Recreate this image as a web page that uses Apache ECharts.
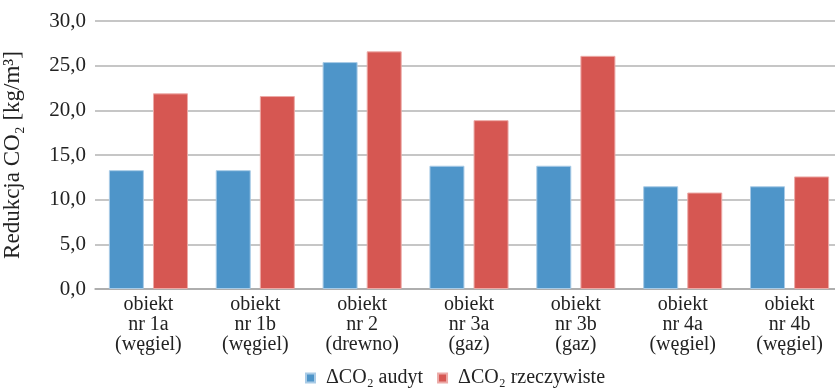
<!DOCTYPE html>
<html>
<head>
<meta charset="utf-8">
<script src="https://cdn.jsdelivr.net/npm/echarts@6/dist/echarts.min.js"></script>
<style>
  html, body { margin: 0; padding: 0; background: #fff; }
  #chart { width: 835px; height: 389px; }
</style>
</head>
<body>
<div id="chart"></div>
<script>
var categories = [
    'obiekt\nnr 1a\n(węgiel)',
    'obiekt\nnr 1b\n(węgiel)',
    'obiekt\nnr 2\n(drewno)',
    'obiekt\nnr 3a\n(gaz)',
    'obiekt\nnr 3b\n(gaz)',
    'obiekt\nnr 4a\n(węgiel)',
    'obiekt\nnr 4b\n(węgiel)'
];
var audytValues = [13.3, 13.3, 25.4, 13.8, 13.8, 11.5, 11.5];
var rzeczywisteValues = [21.9, 21.6, 26.6, 18.9, 26.1, 10.8, 12.6];
var seriesNames = ['ΔCO₂ audyt', 'ΔCO₂ rzeczywiste'];

var font = 'Liberation Serif';

var chart = echarts.init(document.getElementById('chart'));

var option = {
    backgroundColor: '#fff',
    animation: false,
    textStyle: { fontFamily: font },
    grid: {
        left: 95,
        right: -8,
        top: 21,
        bottom: 100,
        outerBoundsMode: 'none'
    },
    legend: {
        bottom: -4,
        left: 300,
        itemWidth: 9,
        itemHeight: 9,
        itemGap: 14,
        icon: 'rect',
        textStyle: { fontFamily: font, fontSize: 20, color: '#222', padding: [0, 0, 0, 6] },
        data: seriesNames
    },
    xAxis: {
        type: 'category',
        data: categories,
        axisLine: { lineStyle: { color: '#a6a6a6', width: 1.5 } },
        axisTick: { show: false },
        axisLabel: {
            fontFamily: font,
            fontSize: 20,
            color: '#222',
            lineHeight: 20,
            margin: 6,
            interval: 0
        }
    },
    yAxis: {
        type: 'value',
        min: 0,
        max: 30,
        interval: 5,
        name: 'Redukcja CO₂ [kg/m³]',
        nameLocation: 'middle',
        nameGap: 71,
        nameTextStyle: { fontFamily: font, fontSize: 23, color: '#222' },
        axisLine: { show: false },
        axisTick: { show: false },
        axisLabel: {
            fontFamily: font,
            fontSize: 21,
            color: '#222',
            margin: 9,
            formatter: function (v) { return v.toFixed(1).replace('.', ','); }
        },
        splitLine: { lineStyle: { color: '#b3b3b3', width: 1.5 } }
    },
    series: [
        {
            name: seriesNames[0],
            type: 'bar',
            data: audytValues,
            barWidth: 35,
            barGap: '26%',
            itemStyle: { color: '#4e95c9', borderColor: '#a9cbe6', borderWidth: 1 }
        },
        {
            name: seriesNames[1],
            type: 'bar',
            data: rzeczywisteValues,
            barWidth: 35,
            itemStyle: { color: '#d65752', borderColor: '#ecaaa7', borderWidth: 1 }
        }
    ]
};

chart.setOption(option);
</script>
</body>
</html>
